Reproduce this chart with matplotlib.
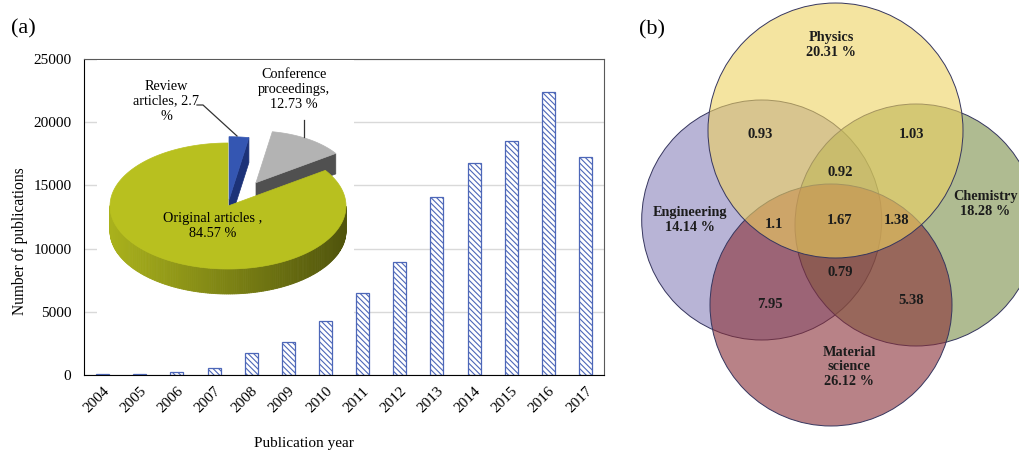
import numpy as np
import matplotlib
matplotlib.use('Agg')
import matplotlib.pyplot as plt
from matplotlib.patches import Polygon, Circle
from matplotlib.colors import to_rgb

plt.rcParams['font.family'] = ['Liberation Serif', 'DejaVu Serif']
plt.rcParams['hatch.linewidth'] = 0.8

# ---- data ----
years = ['2004', '2005', '2006', '2007', '2008', '2009', '2010',
         '2011', '2012', '2013', '2014', '2015', '2016', '2017']
publications = [100, 100, 240, 560, 1720, 2650, 4250,
                6450, 8950, 14050, 16800, 18550, 22400, 17250]

article_types = ['Original articles', 'Review articles', 'Conference proceedings']
article_shares = [84.57, 2.7, 12.73]

fields = ['Physics', 'Engineering', 'Chemistry', 'Material\nscience']
field_shares = [20.31, 14.14, 18.28, 26.12]
overlap_values = [0.93, 1.03, 0.92, 1.1, 1.67, 1.38, 0.79, 7.95, 5.38]

# ---- layout (pixels of the 1019x451 picture) ----
W, H = 1019, 451
BAR_BLUE = '#4d67b8'

fig = plt.figure(figsize=(W / 100, H / 100), dpi=100)


def box(x0, y0, x1, y1):
    return [x0 / W, 1 - y1 / H, (x1 - x0) / W, (y1 - y0) / H]


def mix(c1, c2, k):
    a, b = np.array(to_rgb(c1)), np.array(to_rgb(c2))
    return tuple(a + (b - a) * k)


# ---- (a) bars ----
ax = fig.add_axes(box(84, 59, 604, 375))
x = np.arange(len(years))
ax.bar(x, publications, width=0.35, facecolor='white', edgecolor=BAR_BLUE,
       hatch='\\' * 6, linewidth=0.9, zorder=2)
ax.set_xlim(-0.5, len(years) - 0.5)
ax.set_ylim(0, 25000)
ax.set_yticks(range(0, 25001, 5000))
ax.set_xticks(x)
ax.set_xticklabels(years, rotation=45, ha='right', rotation_mode='anchor')
ax.tick_params(axis='both', length=0, labelsize=11)
ax.tick_params(axis='y', pad=9)
ax.tick_params(axis='x', pad=7)
ax.yaxis.grid(True, color='#d9d9d9', linewidth=1)
ax.set_axisbelow(True)
for side in ['top', 'right']:
    ax.spines[side].set_color('#595959')
for side in ['left', 'bottom']:
    ax.spines[side].set_color('black')
fig.text(20 / W, 1 - 241 / H, 'Number of publications', rotation=90,
         ha='center', va='center', fontsize=11.2)
fig.text(304 / W, 1 - 443 / H, 'Publication year', ha='center', va='center',
         fontsize=11)
fig.text(23 / W, 1 - 29 / H, '(a)', ha='center', va='center', fontsize=16)

# ---- (a) 3D pie inset ----
pax = fig.add_axes(box(97, 60, 354, 316), zorder=3)
pax.set_facecolor('white')
pax.set_xlim(97, 354)
pax.set_ylim(316, 60)
pax.set_xticks([])
pax.set_yticks([])
for s in pax.spines.values():
    s.set_visible(False)

cx, cy, ra, rb, depth = 228, 206, 118, 63, 25
pie_order = [1, 2, 0]                # clockwise from 12 o'clock
explode = [0.0, 0.1, 0.44]
scale = [1.0, 1.0, 0.82]
top_cols = ['#b8c01f', '#3456b2', '#b3b3b3']
side_light = ['#aab21c', '#2a4696', '#6a6a6a']
side_dark = ['#50540c', '#1c3278', '#505050']

slices = []
cur = 90.0
for i in pie_order:
    span = 360 * article_shares[i] / 100
    slices.append((i, cur - span, cur))
    cur -= span


def draw_slice(i, t_lo, t_hi):
    mid = np.radians((t_lo + t_hi) / 2)
    ox = cx + explode[i] * ra * np.cos(mid)
    oy = cy - explode[i] * rb * np.sin(mid)
    a, b, d = ra * scale[i], rb * scale[i], depth * scale[i]
    t = np.radians(np.linspace(t_lo, t_hi, 300))
    xs, ys = ox + a * np.cos(t), oy - b * np.sin(t)
    # outer wall, shaded light (left) to dark (right)
    for j in range(len(t) - 1):
        tm = 0.5 * (t[j] + t[j + 1])
        if np.sin(tm) < 0:
            col = mix(side_light[i], side_dark[i], (1 + np.cos(tm)) / 2)
            quad = [(xs[j], ys[j]), (xs[j + 1], ys[j + 1]),
                    (xs[j + 1], ys[j + 1] + d), (xs[j], ys[j] + d)]
            pax.add_patch(Polygon(quad, closed=True, fc=col, ec=col, lw=0.6))
    # cut faces that look towards the viewer
    for tt, normal in ((t_lo, t_lo - 90), (t_hi, t_hi + 90)):
        if np.sin(np.radians(normal)) < -1e-6:
            px_ = ox + a * np.cos(np.radians(tt))
            py_ = oy - b * np.sin(np.radians(tt))
            quad = [(ox, oy), (px_, py_), (px_, py_ + d), (ox, oy + d)]
            pax.add_patch(Polygon(quad, closed=True, fc=side_dark[i],
                                  ec=side_dark[i], lw=0.5))
    pts = [(ox, oy)] + list(zip(xs, ys))
    pax.add_patch(Polygon(pts, closed=True, fc=top_cols[i], ec=top_cols[i],
                          lw=0.5))


# back slices first
for i, lo, hi in sorted(slices, key=lambda s: -np.sin(np.radians((s[1] + s[2]) / 2))):
    draw_slice(i, lo, hi)

pie_fs = 10.3
pax.text(213, 226, '%s ,\n%.2f %%' % (article_types[0], article_shares[0]),
         ha='center', va='center', fontsize=pie_fs, linespacing=1.15)
pax.text(166, 101, 'Review\narticles, %s\n%%' % article_shares[1],
         ha='center', va='center', fontsize=pie_fs, linespacing=1.2)
pax.text(294, 90, 'Conference\nproceedings,\n%.2f %%' % article_shares[2],
         ha='center', va='center', fontsize=pie_fs, linespacing=1.2)
pax.plot([197, 203, 237], [105, 105, 136], color='#333333', lw=0.9)
pax.plot([304, 304], [120, 137], color='#333333', lw=0.9)

# ---- (b) Venn ----
vax = fig.add_axes(box(620, 0, 1019, 451))
vax.set_xlim(620, 1019)
vax.set_ylim(451, 0)
vax.axis('off')

venn_circles = [(835.5, 130.5, 127.5), (761.7, 220, 120),
                (916, 225, 121), (831, 305, 121)]
venn_cols = ['#eed261', '#8a82bc', '#7a8f48', '#8a2f37']
draw_order = [1, 2, 3, 0]
for k in draw_order:
    vx, vy, r = venn_circles[k]
    vax.add_patch(Circle((vx, vy), r, fc=to_rgb(venn_cols[k]) + (0.6,),
                         ec='#36365e', lw=0.7))

label_pos = [(831, 45), (690, 220), (985, 204), (849, 367)]
for name, pct, (lx, ly) in zip(fields, field_shares, label_pos):
    vax.text(lx, ly, '%s\n%.2f %%' % (name, pct), ha='center', va='center',
             fontsize=10.3, fontweight='bold', color='#1c1c1c', linespacing=1.15)

overlap_pos = [(760, 135), (912, 135), (840, 173), (774, 225), (840, 220),
               (897, 220), (840, 272), (770, 304), (911, 300)]
for v, (lx, ly) in zip(overlap_values, overlap_pos):
    vax.text(lx, ly, str(v), ha='center', va='center', fontsize=10.5,
             fontweight='bold', color='#1c1c1c')

fig.text(652 / W, 1 - 30 / H, '(b)', ha='center', va='center', fontsize=16)

fig.savefig('out.png', dpi=100)
